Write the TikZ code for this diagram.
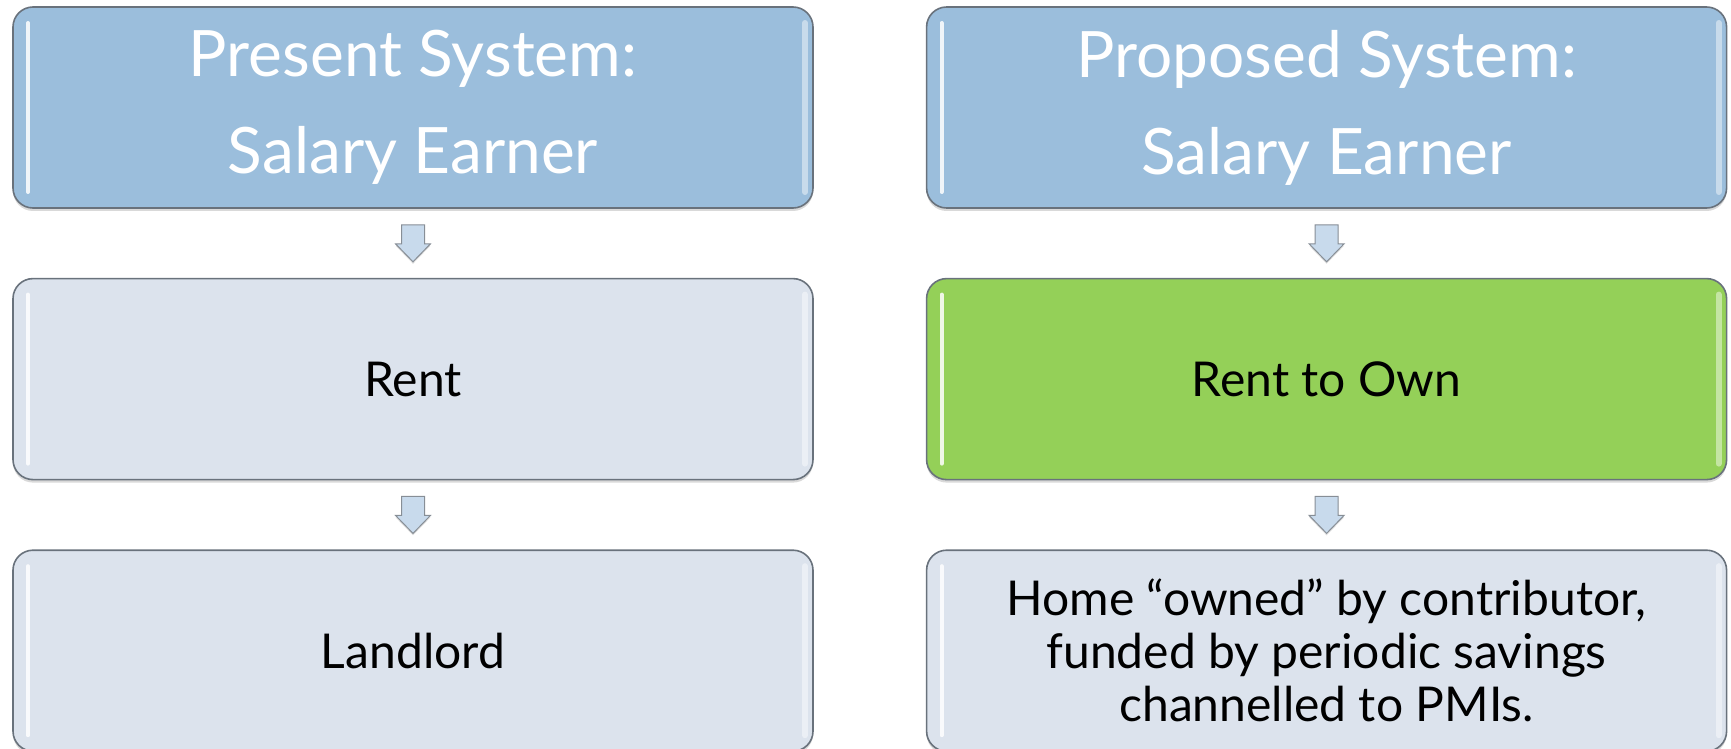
\documentclass[tikz,border=0pt]{standalone}
\usepackage{fontspec}
\setmainfont{Lato}
\usepackage{xcolor}
\usepackage{tikz}
\usetikzlibrary{shapes,arrows,positioning,calc,shadows}

\definecolor{headblue}{RGB}{155,190,220}
\definecolor{paleblue}{RGB}{220,227,237}
\definecolor{leafgreen}{RGB}{148,208,88}
\definecolor{arrowblue}{RGB}{200,218,236}
\definecolor{edgegray}{RGB}{105,114,124}

\begin{document}
\begin{tikzpicture}[
    x=0.5pt, y=-0.5pt,
    node distance=34.5pt and 56pt,
    bevel/.style={path picture={
        \draw[white, line width=2pt, opacity=.85, line cap=round]
            ([xshift=7.5pt,yshift=-8pt]path picture bounding box.north west) --
            ([xshift=7.5pt,yshift=8pt]path picture bounding box.south west);
        \draw[white, line width=3pt, opacity=.45, line cap=round]
            ([xshift=-4pt,yshift=-8pt]path picture bounding box.north east) --
            ([xshift=-4pt,yshift=8pt]path picture bounding box.south east);
    }},
    box/.style={draw=edgegray, line width=0.8pt, rectangle, rounded corners=10pt, minimum width=400pt, minimum height=100.5pt, align=center, fill=paleblue, font=\fontsize{24}{26.5}\selectfont, drop shadow={shadow xshift=0pt, shadow yshift=-1.5pt, opacity=.3}, bevel},
    titlebox/.style={box, fill=headblue, text=white, font=\fontsize{32}{48.5}\selectfont},
    greenbox/.style={box, fill=leafgreen},
    downarr/.style={draw=edgegray!80, line width=0.5pt, fill=arrowblue, line join=miter, drop shadow={shadow xshift=0pt, shadow yshift=-1pt, opacity=.25}},
    blockdown/.pic={
        \path[downarr] (-11.5,-18.5) -- (11.5,-18.5) -- (11.5,0.5) -- (17.5,0.5)
            -- (0,18.5) -- (-17.5,0.5) -- (-11.5,0.5) -- cycle;
    }
]
    \useasboundingbox (0,0) rectangle (1731,749);

    \node[titlebox] (present) at (413,107.5) {Present System:\\Salary Earner};
    \node[titlebox, right=of present] (proposed) {Proposed System:\\Salary Earner};

    \node[box, below=of present] (rent) {Rent};
    \node[greenbox, below=of proposed] (renttoown) {Rent to Own};

    \node[box, below=of rent] (landlord) {Landlord};
    \node[box, below=of renttoown] (home) {Home “owned” by contributor,\\funded by periodic savings\\channelled to PMIs.};

    % block arrows between the rows
    \foreach \u/\v in {present/rent, rent/landlord, proposed/renttoown, renttoown/home}
        \pic (arr-\u) at ($(\u.south)!0.5!(\v.north)$) {blockdown};
\end{tikzpicture}
\end{document}
